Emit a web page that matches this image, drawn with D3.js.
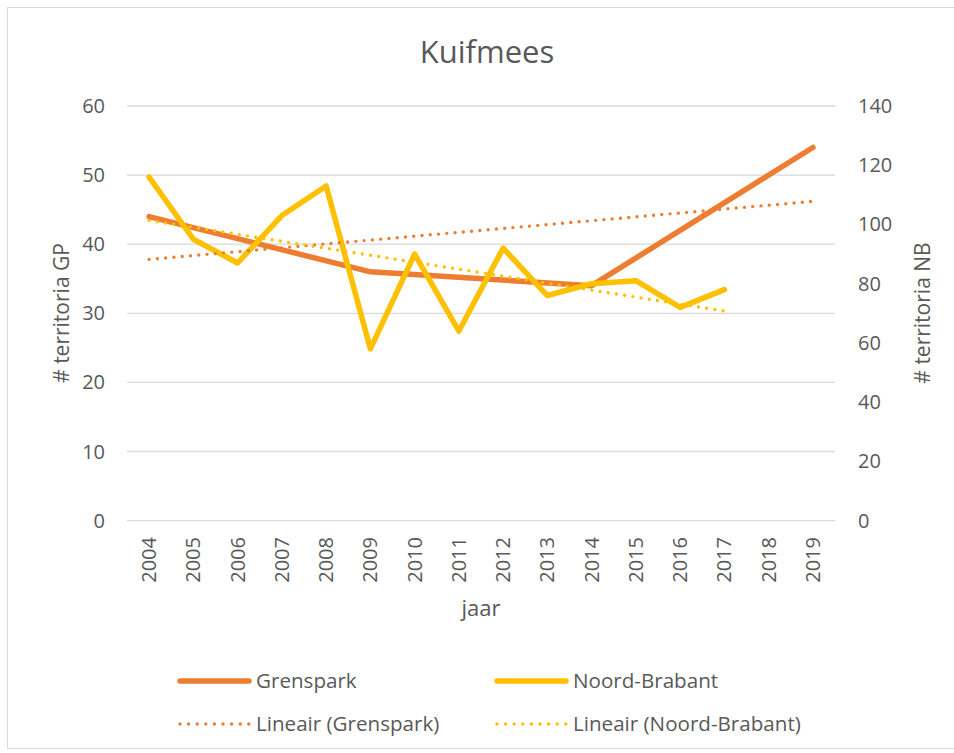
<!DOCTYPE html>
<html>
<head>
<meta charset="utf-8">
<script src="https://cdn.jsdelivr.net/npm/d3@7.9.0/dist/d3.min.js"></script>
<style>
  body { margin: 0; background: #fff; }
  svg text { font-family: "Open Sans", sans-serif; fill: #595959; }
</style>
</head>
<body>
<svg id="chart" width="954" height="753"></svg>
<script>
// data
const years = ['2004','2005','2006','2007','2008','2009','2010','2011','2012','2013','2014','2015','2016','2017','2018','2019'];
// Grenspark only has counts for some years, the line connects over the gaps
const grenspark = [44, null, null, null, null, 36, null, null, null, null, 34, null, null, null, null, 54];
const noordBrabant = [116, 95, 87, 103, 113, 58, 90, 64, 92, 76, 80, 81, 72, 78, null, null];
const leftTicks = [0, 10, 20, 30, 40, 50, 60];
const rightTicks = [0, 20, 40, 60, 80, 100, 120, 140];

const orange = '#ED7D31';
const yellow = '#FFC000';

const svg = d3.select('#chart');

// chart border
svg.append('rect')
  .attr('x', 7.5).attr('y', 7.5)
  .attr('width', 960).attr('height', 741)
  .attr('fill', 'none')
  .attr('stroke', '#D9D9D9');

const x = d3.scalePoint().domain(years).range([127, 835]).padding(0.5);
const yLeft = d3.scaleLinear().domain([0, 60]).range([520.6, 106]);
const yRight = d3.scaleLinear().domain([0, 140]).range([520.6, 106]);

// gridlines
svg.append('g')
  .selectAll('line')
  .data(leftTicks)
  .join('line')
  .attr('x1', 127).attr('x2', 835)
  .attr('y1', d => yLeft(d)).attr('y2', d => yLeft(d))
  .attr('stroke', '#D9D9D9')
  .attr('stroke-width', 1.3);

// left axis labels
svg.append('g')
  .selectAll('text')
  .data(leftTicks)
  .join('text')
  .attr('x', 105)
  .attr('y', d => yLeft(d))
  .attr('dy', '0.35em')
  .attr('text-anchor', 'end')
  .attr('font-size', 20)
  .text(d => d);

// right axis labels
svg.append('g')
  .selectAll('text')
  .data(rightTicks)
  .join('text')
  .attr('x', 858)
  .attr('y', d => yRight(d))
  .attr('dy', '0.35em')
  .attr('text-anchor', 'start')
  .attr('font-size', 20)
  .text(d => d);

// year labels, rotated
svg.append('g')
  .selectAll('text')
  .data(years)
  .join('text')
  .attr('transform', d => `translate(${x(d)},537) rotate(-90)`)
  .attr('dy', '0.35em')
  .attr('text-anchor', 'end')
  .attr('font-size', 20)
  .text(d => d);

// titles
svg.append('text')
  .attr('x', 487).attr('y', 63)
  .attr('text-anchor', 'middle')
  .attr('font-size', 31)
  .text('Kuifmees');

svg.append('text')
  .attr('x', 481).attr('y', 616)
  .attr('text-anchor', 'middle')
  .attr('font-size', 22)
  .text('jaar');

svg.append('text')
  .attr('transform', 'translate(69,313) rotate(-90)')
  .attr('text-anchor', 'middle')
  .attr('font-size', 21)
  .text('# territoria GP');

svg.append('text')
  .attr('transform', 'translate(930,313) rotate(-90)')
  .attr('text-anchor', 'middle')
  .attr('font-size', 21)
  .text('# territoria NB');

// points with a value, gaps get skipped
function pts(values) {
  return years.map((yr, i) => ({ i, yr, v: values[i] })).filter(d => d.v !== null);
}

// least squares trend on the category index, like the spreadsheet does
function trend(values) {
  const p = pts(values);
  const mx = d3.mean(p, d => d.i);
  const my = d3.mean(p, d => d.v);
  const slope = d3.sum(p, d => (d.i - mx) * (d.v - my)) / d3.sum(p, d => (d.i - mx) ** 2);
  const first = p[0], last = p[p.length - 1];
  return [first, last].map(d => ({ yr: d.yr, v: my + slope * (d.i - mx) }));
}

function drawLine(data, yScale, color, dotted) {
  const line = d3.line().x(d => x(d.yr)).y(d => yScale(d.v));
  const path = svg.append('path')
    .datum(data)
    .attr('d', line)
    .attr('fill', 'none')
    .attr('stroke', color)
    .attr('stroke-linecap', 'round')
    .attr('stroke-linejoin', 'round');
  if (dotted) {
    path.attr('stroke-width', 3.4).attr('stroke-dasharray', '0 8.3');
  } else {
    path.attr('stroke-width', 5.5);
  }
}

drawLine(pts(grenspark), yLeft, orange, false);
drawLine(pts(noordBrabant), yRight, yellow, false);
drawLine(trend(grenspark), yLeft, orange, true);
drawLine(trend(noordBrabant), yRight, yellow, true);

// legend
const legendItems = [
  { label: 'Grenspark', color: orange, dotted: false, x: 180, y: 681 },
  { label: 'Noord-Brabant', color: yellow, dotted: false, x: 497, y: 681 },
  { label: 'Lineair (Grenspark)', color: orange, dotted: true, x: 180, y: 724 },
  { label: 'Lineair (Noord-Brabant)', color: yellow, dotted: true, x: 497, y: 724 }
];

const legend = svg.append('g');
legendItems.forEach(d => {
  const l = legend.append('line')
    .attr('x1', d.x).attr('x2', d.x + 69)
    .attr('y1', d.y).attr('y2', d.y)
    .attr('stroke', d.color)
    .attr('stroke-linecap', 'round');
  if (d.dotted) {
    l.attr('stroke-width', 3.4).attr('stroke-dasharray', '0 8.6');
  } else {
    l.attr('stroke-width', 5.5);
  }
  legend.append('text')
    .attr('x', d.x + 76)
    .attr('y', d.y)
    .attr('dy', '0.35em')
    .attr('font-size', 20.6)
    .text(d.label);
});
</script>
</body>
</html>
